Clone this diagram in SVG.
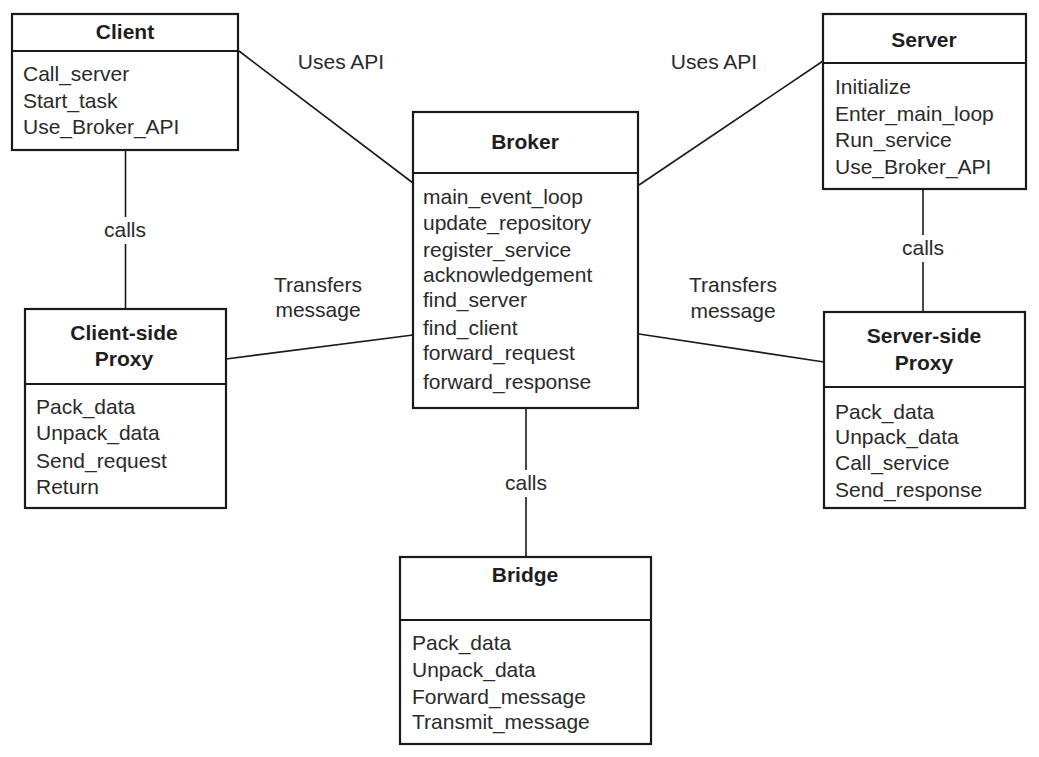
<svg xmlns="http://www.w3.org/2000/svg" width="1039" height="757" viewBox="0 0 1039 757">
<style>
.box{fill:#fff;stroke:#1a1a1a;stroke-width:2.2}
.div{stroke:#1a1a1a;stroke-width:2}
.conn{stroke:#1a1a1a;stroke-width:1.6;fill:none}
.t{font-family:"Liberation Sans",Arial,sans-serif;font-size:21px;fill:#2a2a2a}
.h{font-family:"Liberation Sans",Arial,sans-serif;font-size:21px;font-weight:bold;fill:#1e1e1e;text-anchor:middle}
.lbl{font-family:"Liberation Sans",Arial,sans-serif;font-size:21px;fill:#2a2a2a;text-anchor:middle}
.bg{fill:#fff}
</style>
<rect width="1039" height="757" fill="#fff"/>
<g id="connectors">
<line class="conn" x1="239" y1="51" x2="413" y2="183"/>
<line class="conn" x1="823" y1="61" x2="639" y2="185"/>
<line class="conn" x1="226" y1="359" x2="413" y2="335"/>
<line class="conn" x1="639" y1="334" x2="824" y2="362"/>
<line class="conn" x1="125.5" y1="150" x2="125.5" y2="309"/>
<line class="conn" x1="923" y1="189" x2="923" y2="312"/>
<line class="conn" x1="526" y1="408" x2="526" y2="557"/>
<rect class="bg" x="100" y="217" width="52" height="27"/>
<rect class="bg" x="897" y="235" width="52" height="27"/>
<rect class="bg" x="500" y="470" width="52" height="27"/>
<text class="lbl" x="125" y="237">calls</text>
<text class="lbl" x="923" y="255">calls</text>
<text class="lbl" x="526" y="490">calls</text>
<text class="lbl" x="341" y="69">Uses API</text>
<text class="lbl" x="714" y="69">Uses API</text>
<text class="lbl" x="318" y="292">Transfers</text>
<text class="lbl" x="318" y="317">message</text>
<text class="lbl" x="733" y="292">Transfers</text>
<text class="lbl" x="733" y="318">message</text>
</g>
<g id="client">
<rect class="box" x="12" y="14" width="226" height="136"/>
<line class="div" x1="12" y1="51" x2="238" y2="51"/>
<text class="h" x="125" y="39">Client</text>
<text class="t" x="23" y="81">Call_server</text>
<text class="t" x="23" y="108">Start_task</text>
<text class="t" x="23" y="134">Use_Broker_API</text>
</g>
<g id="server">
<rect class="box" x="823" y="14" width="203" height="175"/>
<line class="div" x1="823" y1="63" x2="1026" y2="63"/>
<text class="h" x="924" y="47">Server</text>
<text class="t" x="835" y="94">Initialize</text>
<text class="t" x="835" y="121">Enter_main_loop</text>
<text class="t" x="835" y="147">Run_service</text>
<text class="t" x="835" y="174">Use_Broker_API</text>
</g>
<g id="broker">
<rect class="box" x="413" y="112" width="225" height="296"/>
<line class="div" x1="413" y1="173" x2="638" y2="173"/>
<text class="h" x="525" y="149">Broker</text>
<text class="t" x="423" y="204">main_event_loop</text>
<text class="t" x="423" y="230">update_repository</text>
<text class="t" x="423" y="257">register_service</text>
<text class="t" x="423" y="282">acknowledgement</text>
<text class="t" x="423" y="307">find_server</text>
<text class="t" x="423" y="335">find_client</text>
<text class="t" x="423" y="360">forward_request</text>
<text class="t" x="423" y="389">forward_response</text>
</g>
<g id="client-side-proxy">
<rect class="box" x="25" y="309" width="201" height="199"/>
<line class="div" x1="25" y1="384" x2="226" y2="384"/>
<text class="h" x="124" y="340">Client-side</text>
<text class="h" x="124" y="366">Proxy</text>
<text class="t" x="36" y="414">Pack_data</text>
<text class="t" x="36" y="440">Unpack_data</text>
<text class="t" x="36" y="468">Send_request</text>
<text class="t" x="36" y="494">Return</text>
</g>
<g id="server-side-proxy">
<rect class="box" x="824" y="312" width="201" height="196"/>
<line class="div" x1="824" y1="387" x2="1025" y2="387"/>
<text class="h" x="924" y="343">Server-side</text>
<text class="h" x="924" y="370">Proxy</text>
<text class="t" x="835" y="419">Pack_data</text>
<text class="t" x="835" y="444">Unpack_data</text>
<text class="t" x="835" y="470">Call_service</text>
<text class="t" x="835" y="497">Send_response</text>
</g>
<g id="bridge">
<rect class="box" x="400" y="557" width="251" height="187"/>
<line class="div" x1="400" y1="620" x2="651" y2="620"/>
<text class="h" x="525" y="582">Bridge</text>
<text class="t" x="412" y="650">Pack_data</text>
<text class="t" x="412" y="677">Unpack_data</text>
<text class="t" x="412" y="704">Forward_message</text>
<text class="t" x="412" y="729">Transmit_message</text>
</g>
</svg>
